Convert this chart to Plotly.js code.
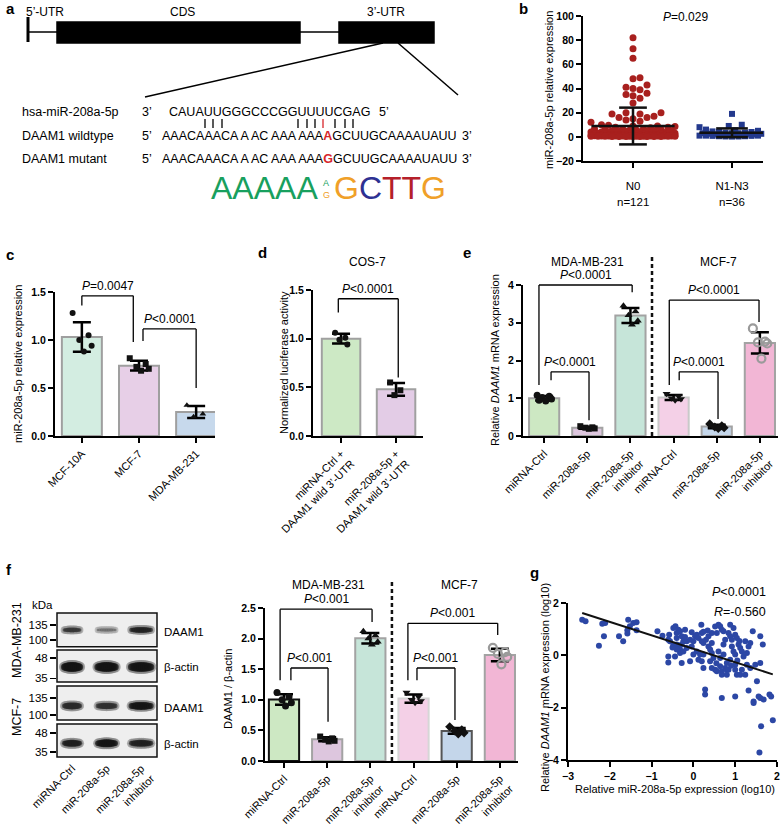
<!DOCTYPE html>
<html><head><meta charset="utf-8">
<script src="https://cdn.plot.ly/plotly-3.0.1.min.js"></script>
<style>body{margin:0;background:#fff}#chart{width:784px;height:825px}</style>
</head><body><div id="chart"></div>
<script>
const W=784,H=825;
const FONT='Liberation Sans, Arial, sans-serif';

// ---------------- DATA ----------------
// panel b
const bCategories=['N0','N1-N3'];
const bCounts=['n=121','n=36'];
const bN0=[82,73,65,49,48,43,41,40,39,36,35,34,32,28,
  20,20,19,19,17,16,16,15,14,13,12,
  10,9.5,9,9,8.5,8,8,7.5,7,7,6.5,6,6,5.5,5.5,5,5,5,4.5,4.5,4.5,4,4,4,4,3.5,3.5,3.5,3.5,3,3,3,3,3,
  2.5,2.5,2.5,2.5,2.5,2.5,2,2,2,2,2,2,2,2,1.5,1.5,1.5,1.5,1.5,1.5,1.5,1.5,
  1.2,1.2,1.2,1.2,1.2,1.2,1.2,1.2,1,1,1,1,1,1,1,1,0.7,0.7,0.7,0.7,0.7,0.7,0.7,0.7,
  0.4,0.4,0.4,0.4,0.4,0.4,0.4,0.4,0.2,0.2,0.2,0.2,0.2,0.2,0.2,0.2];
const bN1N3=[19,10,9,8,6,5.5,5,5,4.5,4,4,3.5,3.5,3,3,3,2.5,2.5,2,2,2,2,1.5,1.5,1.5,1,1,1,1,0.8,0.8,0.5,0.5,0.3,0.3,0.2];
const bPText='<i>P</i>=0.029';

// panel c
const cCategories=['MCF-10A','MCF-7','MDA-MB-231'];
const cPoints=[[1.28,1.05,1.00,0.94,0.88],[0.81,0.75,0.72,0.70,0.68],[0.32,0.23,0.20]];

// panel d
const dCategories=['miRNA-Ctrl +<br>DAAM1 wild 3’-UTR','miR-208a-5p +<br>DAAM1 wild 3’-UTR'];
const dPoints=[[1.06,1.01,0.99,0.94],[0.55,0.47,0.42]];

// panel e
const eCategories=['miRNA-Ctrl','miR-208a-5p','miR-208a-5p<br>inhibitor','miRNA-Ctrl','miR-208a-5p','miR-208a-5p<br>inhibitor'];
const ePoints=[[1.08,1.05,1.02,0.98,0.93,0.95],[0.26,0.23,0.22,0.20,0.19],[3.45,3.30,3.20,3.05,2.95],
  [1.12,1.05,1.00,0.98,0.95],[0.32,0.27,0.24,0.22,0.20],[2.85,2.50,2.48,2.45,2.05]];

// panel f (bars)
const fCategories=eCategories;
const fPoints=[[1.12,1.05,1.00,0.95,0.90],[0.40,0.37,0.35,0.33,0.32],[2.12,2.05,2.00,1.95,1.90],
  [1.12,1.05,1.00,0.98,0.95],[0.56,0.51,0.49,0.46,0.44],[1.85,1.78,1.75,1.70,1.58]];

// panel f (western blot)
const blotLanes=['miRNA-Ctrl','miR-208a-5p','miR-208a-5p<br>inhibitor'];
const blotRows=['DAAM1','β-actin','DAAM1','β-actin'];
const blotCells=['MDA-MB-231','MCF-7'];
const blotIntensity=[[0.85,0.6,0.95],[1,1,1],[0.9,0.88,1],[0.95,1,0.95]];
const blotThickness=[[5,3.5,6],[10,10,10],[7,6.5,8],[7,8,7]];
const blotMarkerLabels=['135','100','48','35','135','100','48','35'];
const blotMarkerPos=[0.33,0.75,1.25,1.81,2.36,2.83,3.33,3.86];
const blotBandY=[0.47,1.5,2.58,3.62];

// panel g
const gX=[-2.66,-2.58,-2.18,-2.11,-2.14,-2.26,-1.78,-1.68,-1.58,-1.56,-1.44,-1.36,-1.36,-1.58,-1.52,-0.86,-0.74,-0.60,-0.60,-0.60,-0.44,-0.58,-0.56,-0.48,-0.43,-0.40,-0.36,-0.40,-0.32,-0.28,-0.24,-0.40,-0.36,-0.32,-0.28,-0.20,-0.16,-0.16,-0.08,-0.04,-0.04,0.00,0.04,0.08,0.12,0.20,0.20,0.24,0.08,0.16,0.12,-0.08,-0.32,-0.24,-0.40,-0.48,0.00,-0.28,0.24,0.19,0.20,0.24,0.28,0.28,0.36,0.36,0.44,0.40,0.44,0.48,0.40,0.44,0.52,0.56,0.56,0.60,0.64,0.68,0.72,0.76,0.72,0.72,0.60,0.64,0.64,0.68,0.68,0.76,0.80,0.80,0.88,0.88,0.92,0.92,0.96,0.96,1.00,1.04,1.00,1.00,1.00,1.04,1.12,1.08,1.12,1.16,1.20,1.24,0.88,0.84,0.80,1.16,1.24,1.28,1.28,1.36,1.32,1.48,1.36,1.60,0.68,1.00,1.44,1.44,1.32,1.52,1.56,1.60,1.68,1.82,1.86,1.62,1.90,1.58,1.66,1.42,1.60,0.52,0.44,0.34,0.84,0.24,-0.50,-0.20,0.30,1.10,1.05,0.90,0.55];
const gY=[1.36,1.30,1.21,1.24,0.73,0.37,0.73,0.54,0.96,1.36,1.24,1.26,0.96,0.83,1.11,0.92,0.75,0.60,-0.04,-0.27,-0.04,0.79,0.54,1.04,1.11,0.85,0.98,0.66,0.92,0.73,0.54,0.41,0.34,0.22,0.41,0.98,0.54,0.28,0.60,0.34,0.88,0.54,0.73,0.79,0.66,0.85,0.54,0.47,0.15,0.03,-0.17,-0.23,0.09,0.15,0.22,0.41,0.03,-0.29,0.03,1.17,-0.23,-0.48,-1.31,-1.50,0.73,0.34,0.47,0.22,0.09,-0.10,-0.23,-0.48,-0.55,-0.61,0.85,1.17,1.11,0.98,0.92,0.60,0.41,0.03,0.15,-0.10,-0.42,-0.61,-0.74,-0.48,-0.29,-0.55,-0.17,0.73,0.60,0.34,0.15,1.04,0.79,0.66,0.03,-0.36,-0.55,-0.74,-0.74,0.41,0.28,0.15,-0.04,0.54,1.17,-0.55,-0.74,-0.55,-0.74,0.09,-0.36,0.47,0.34,-0.36,-0.48,-0.29,-1.63,-1.57,-1.76,-1.82,-1.34,-0.99,-1.57,-1.63,-1.69,-1.50,-1.57,-2.71,-2.48,-3.71,0.41,0.92,0.73,1.10,0.85,0.95,0.85,0.90,0.30,0.70,0.60,0.55,-0.20,-0.40,-0.30];
const gFit={slope:-0.515,intercept:0.25};
const gStats=['<i>P</i>&lt;0.0001','<i>R</i>=-0.560'];

// ---------------- HELPERS ----------------
const px=x=>x/W, py=y=>1-y/H;
const mean=a=>a.reduce((s,v)=>s+v,0)/a.length;
const sd=a=>{const m=mean(a);return Math.sqrt(a.reduce((s,v)=>s+(v-m)*(v-m),0)/(a.length-1));};
const SP={
 b:{n:'',xr:[-0.505,1.313],yr:[-20,100],xd:[583,763],yd:[16,161]},
 c:{n:'2',xr:[-0.47,2.33],yr:[0,1.5],xd:[55,215],yd:[292,436]},
 d:{n:'3',xr:[-0.51,1.49],yr:[0,1.5],xd:[313,423],yd:[290,436]},
 e:{n:'4',xr:[-0.49,5.42],yr:[0,4],xd:[523,778],yd:[285,436]},
 w:{n:'5',xr:[0.565,3.46],yr:[4,0],xd:[57,157],yd:[613,757]},
 f:{n:'6',xr:[-0.44,5.42],yr:[0,2.5],xd:[265,518],yd:[608,761]},
 g:{n:'7',xr:[-3,2],yr:[-4,2],xd:[568,777],yd:[603,760]}
};
function XP(sp,v){return sp.xd[0]+(v-sp.xr[0])/(sp.xr[1]-sp.xr[0])*(sp.xd[1]-sp.xd[0]);}
function YP(sp,v){return sp.yd[1]-(v-sp.yr[0])/(sp.yr[1]-sp.yr[0])*(sp.yd[1]-sp.yd[0]);}
const traces=[],shapes=[],annotations=[];
const layout={width:W,height:H,margin:{l:0,r:0,t:0,b:0},paper_bgcolor:'#fff',plot_bgcolor:'rgba(0,0,0,0)',
  showlegend:false,font:{family:FONT,color:'#000'},shapes,annotations};
function ann(text,x,y,o){const a={text,x:px(x),y:py(y),xref:'paper',yref:'paper',showarrow:false,
  font:{family:FONT,size:11,color:'#000'},xanchor:'center',yanchor:'middle'};
  if(o){for(const k in o){if(k==='font')Object.assign(a.font,o.font);else a[k]=o[k];}}
  annotations.push(a);}
function pline(x0,y0,x1,y1,o){shapes.push(Object.assign({type:'line',xref:'paper',yref:'paper',x0:px(x0),y0:py(y0),x1:px(x1),y1:py(y1),line:{color:'#000',width:1.3}},o||{}));}
function prect(x0,y0,x1,y1,o){shapes.push(Object.assign({type:'rect',xref:'paper',yref:'paper',x0:px(x0),y0:py(y0),x1:px(x1),y1:py(y1),line:{color:'#000',width:1.5},fillcolor:'#000',layer:'below'},o||{}));}
const numFont={family:FONT,size:10.5,color:'#000',weight:'bold'};
const catFont={family:FONT,size:11,color:'#000'};
const pFont={size:12};
function setAxes(sp,xo,yo){
  const base={showline:true,linewidth:2,linecolor:'#000',ticks:'outside',ticklen:5,tickwidth:2,tickcolor:'#000',
    showgrid:false,zeroline:false,fixedrange:true};
  layout['xaxis'+sp.n]=Object.assign({},base,{domain:[px(sp.xd[0]),px(sp.xd[1])],range:sp.xr,anchor:'y'+sp.n,tickfont:catFont},xo||{});
  layout['yaxis'+sp.n]=Object.assign({},base,{domain:[py(sp.yd[1]),py(sp.yd[0])],range:sp.yr,anchor:'x'+sp.n,tickfont:numFont},yo||{});
}
function bracket(sp,x1,x2,top,yl,yr,label){
  const X1=XP(sp,x1),X2=XP(sp,x2),T=YP(sp,top);
  pline(X1,YP(sp,yl),X1,T);pline(X1,T,X2,T);pline(X2,T,X2,YP(sp,yr));
  ann(label,(X1+X2)/2,T-1,{yanchor:'bottom',font:pFont});
}
const JIT=[-0.18,0.13,-0.05,0.19,0.04,-0.13];
function barPanel(sp,points,colors,lineColors,markers,jit){
  const xs=points.map((p,i)=>i);
  traces.push({type:'bar',x:xs,y:points.map(mean),xaxis:'x'+sp.n,yaxis:'y'+sp.n,width:0.7,
    marker:{color:colors,line:{color:lineColors,width:2}},
    error_y:{type:'data',array:points.map(sd),visible:true,color:'#000',thickness:2.5,width:9},hoverinfo:'skip'});
  points.forEach((p,i)=>{
    const m=markers[i];
    traces.push({type:'scatter',mode:'markers',x:p.map((v,j)=>i+JIT[j%JIT.length]*jit),y:p,xaxis:'x'+sp.n,yaxis:'y'+sp.n,
      cliponaxis:false,hoverinfo:'skip',
      marker:{symbol:m.s,size:m.z||6,color:m.c||'#111',line:{width:m.lw||0,color:m.lc||'#111'}}});
  });
}
function beeswarm(vals,center,pxX,pxY,diam,maxHalf){
  const idx=vals.map((v,i)=>i).sort((a,b)=>vals[a]-vals[b]);
  const placed=[],xs=new Array(vals.length);
  const step=diam*0.5,K=Math.floor(maxHalf/step);
  idx.forEach(i=>{
    const yp=vals[i]*pxY;let best=0,bestD=-1;
    for(let k=0;k<=2*K;k++){
      const off=(k%2?1:-1)*Math.ceil(k/2)*step;
      let minD=Infinity;
      for(const p of placed){if(Math.abs(p.y-yp)>diam)continue;const d=Math.hypot(p.x-off,p.y-yp);if(d<minD)minD=d;}
      if(minD>=diam){best=off;bestD=minD;break;}
      if(minD>bestD){bestD=minD;best=off;}
    }
    placed.push({x:best,y:yp});xs[i]=center+best/pxX;
  });
  return xs;
}

// ---------------- PANEL A (schematic) ----------------
ann('<b>a</b>',4,9,{xanchor:'left',font:{size:15}});
pline(28,17,28,42,{line:{color:'#000',width:3}});
pline(28,32,57,32,{line:{color:'#000',width:1.5}});
prect(57,22,300,43);
pline(300,32,339,32,{line:{color:'#000',width:1.5}});
prect(339,22,434,43);
pline(383,43,145,97,{line:{color:'#000',width:1.5}});
pline(398,43,458,95,{line:{color:'#000',width:1.5}});
ann('5’-UTR',45,12,{font:{size:12}});ann('CDS',182,12,{font:{size:12}});ann('3’-UTR',386,12,{font:{size:12}});
const seqFont={size:12.5};
ann('hsa-miR-208a-5p',20,112,{xanchor:'left',font:seqFont});
ann('3’',140,112,{xanchor:'left',font:seqFont});
ann('CAUAUUGGGCCCGGUUUUCGAG',167,112,{xanchor:'left',font:seqFont});
ann('5’',377,112,{xanchor:'left',font:seqFont});
[205,213,222,298,307,315,323,335,345,353].forEach(x=>pline(x,119,x,128,{line:{color:x===323?'#d7262b':'#000',width:1.3}}));
ann('DAAM1 wildtype',20,136,{xanchor:'left',font:seqFont});
ann('5’',140,136,{xanchor:'left',font:seqFont});
ann('AAACAAACA A AC AAA AAA<span style="color:#d7262b"><b>A</b></span>GCUUGCAAAAUAUU',160,136,{xanchor:'left',font:seqFont});
ann('3’',460,136,{xanchor:'left',font:seqFont});
ann('DAAM1 mutant',20,159,{xanchor:'left',font:seqFont});
ann('5’',140,159,{xanchor:'left',font:seqFont});
ann('AAACAAACA A AC AAA AAA<span style="color:#d7262b"><b>G</b></span>GCUUGCAAAAUAUU',160,159,{xanchor:'left',font:seqFont});
ann('3’',460,159,{xanchor:'left',font:seqFont});
ann('AAAAA',209,188,{xanchor:'left',font:{size:32,color:'#18a05e'}});
ann('A',326,183,{font:{size:9,color:'#18a05e'}});
ann('G',326,195,{font:{size:9,color:'#f0a028'}});
ann('<span style="color:#f0a028">G</span><span style="color:#2e3192">C</span><span style="color:#b5202a">TT</span><span style="color:#f0a028">G</span>',332,188,{xanchor:'left',font:{size:32}});

// ---------------- PANEL B ----------------
(function(){
  const sp=SP.b;
  setAxes(sp,{tickvals:[0,1],ticktext:bCategories,ticklabelstandoff:8,tickfont:{family:FONT,size:11.5,color:'#000'}},{dtick:20});
  const pxX=99,pxY=145/120;
  const x0=beeswarm(bN0,0,pxX,pxY,7,42);
  const x1=beeswarm(bN1N3,1,pxX,pxY,6.5,33);
  traces.push({type:'scatter',mode:'markers',x:x0,y:bN0,xaxis:'x',yaxis:'y',cliponaxis:false,hoverinfo:'skip',
    marker:{symbol:'circle',size:7,color:'#a8201e'}});
  traces.push({type:'scatter',mode:'markers',x:x1,y:bN1N3,xaxis:'x',yaxis:'y',cliponaxis:false,hoverinfo:'skip',
    marker:{symbol:'square',size:6,color:'#23398d'}});
  [[bN0,0,0.42,0.14],[bN1N3,1,0.33,0.16]].forEach(([v,c,mw,cw])=>{
    const m=mean(v),s=sd(v);
    traces.push({type:'scatter',mode:'lines',xaxis:'x',yaxis:'y',hoverinfo:'skip',line:{color:'#111',width:2.5},
      x:[c-mw,c+mw,null,c,c,null,c-cw,c+cw,null,c-cw,c+cw],
      y:[m,m,null,m-s,m+s,null,m+s,m+s,null,m-s,m-s]});
  });
  ann('<b>b</b>',523,9,{font:{size:15}});
  ann(bPText,685,17,{font:pFont});
  ann('miR-208a-5p relative expression',549,90,{textangle:-90});
  ann(bCounts[0],XP(sp,0),202,{font:{size:11.5}});ann(bCounts[1],XP(sp,1),202,{font:{size:11.5}});
})();

// ---------------- PANEL C ----------------
(function(){
  const sp=SP.c;
  setAxes(sp,{tickvals:[0,1,2],ticktext:cCategories,tickangle:-45},{tickvals:[0,0.5,1,1.5],tickformat:'.1f'});
  barPanel(sp,cPoints,['#d3ede1','#e7cfe7','#c7d9ec'],['#9f9f9f','#9f9f9f','#9f9f9f'],
    [{s:'circle'},{s:'square'},{s:'triangle-up'}],0.9);
  bracket(sp,0,0.9,1.46,1.36,0.98,'<i>P</i>=0.0047');
  bracket(sp,1.07,2,1.115,0.99,0.5,'<i>P</i>&lt;0.0001');
  ann('<b>c</b>',4,254,{xanchor:'left',font:{size:15}});
  ann('miR-208a-5p relative expression',18,364,{textangle:-90});
})();

// ---------------- PANEL D ----------------
(function(){
  const sp=SP.d;
  setAxes(sp,{tickvals:[0,1],ticktext:dCategories,tickangle:-45},{tickvals:[0,0.5,1,1.5],tickformat:'.1f'});
  barPanel(sp,dPoints,['#cde9c5','#e3cce6'],['#a0a0a0','#a0a0a0'],[{s:'circle'},{s:'square'}],0.6);
  bracket(sp,-0.05,1.04,1.41,1.27,0.6,'<i>P</i>&lt;0.0001');
  ann('<b>d</b>',262,253,{font:{size:15}});
  ann('COS-7',367,262,{font:pFont});
  ann('Normalized luciferase activity',284,363,{textangle:-90});
})();

// ---------------- PANEL E ----------------
const pointStyles=[{s:'circle',z:7},{s:'square',z:6},{s:'triangle-up',z:7},{s:'triangle-down',z:7},{s:'diamond',z:7},
  {s:'circle-open',z:8,c:'#9a9a9a',lc:'#9a9a9a',lw:2.2}];
(function(){
  const sp=SP.e;
  setAxes(sp,{tickvals:[0,1,2,3,4,5],ticktext:eCategories,tickangle:-45},{dtick:1});
  barPanel(sp,ePoints,['#cde8c3','#ddc6de','#c6e5d9','#f4d0e7','#c4d6ea','#f2b6d5'],
    ['#a3a3a3','#a3a3a3','#a3a3a3','#c9c9c9','#a3a3a3','#a3a3a3'],pointStyles,0.9);
  bracket(sp,-0.12,2.04,4.0,1.35,3.81,'<i>P</i>&lt;0.0001');
  bracket(sp,0.16,1.04,1.70,1.48,0.42,'<i>P</i>&lt;0.0001');
  bracket(sp,2.9,4.98,3.6,1.35,3.02,'<i>P</i>&lt;0.0001');
  bracket(sp,3.13,4.03,1.70,1.48,0.45,'<i>P</i>&lt;0.0001');
  pline(XP(sp,2.5),YP(sp,0),XP(sp,2.5),255,{line:{color:'#111',width:2.5,dash:'4px,3px'}});
  ann('<b>e</b>',467,253,{font:{size:15}});
  ann('MDA-MB-231',XP(sp,1),262,{font:pFont});ann('MCF-7',XP(sp,4.05),262,{font:pFont});
  ann('Relative <i>DAAM1</i> mRNA expression',495,360,{textangle:-90});
})();

// ---------------- PANEL F (blot) ----------------
(function(){
  const sp=SP.w;
  setAxes(sp,{showline:false,ticks:'',tickvals:[1,2,3],ticktext:blotLanes,tickangle:-45,ticklabelstandoff:2},
    {showline:false,ticklen:6,tickwidth:1.3,tickvals:blotMarkerPos,ticktext:blotMarkerLabels,tickfont:{family:FONT,size:11.5,color:'#000'}});
  const boxes=[[0,0.94],[1.03,1.92],[2.03,2.97],[3.08,4.0]];
  boxes.forEach(b=>prect(XP(sp,sp.xr[0]),YP(sp,b[0]),XP(sp,sp.xr[1]),YP(sp,b[1]),{fillcolor:'#eeeeee',line:{color:'#111',width:1.5}}));
  const halo={x:[],y:[],s:[],c:[]},core={x:[],y:[],s:[],c:[]};
  blotIntensity.forEach((row,r)=>row.forEach((a,l)=>{
    const th=blotThickness[r][l],n=11,half=0.22+0.03*l;
    for(let k=0;k<n;k++){const t=-1+2*k/(n-1);
      const g=Math.round(225-a*205),gh=Math.round(225-a*90);
      core.x.push(l+1+t*half);core.y.push(blotBandY[r]);core.s.push(th*(1-0.3*t*t));core.c.push(`rgb(${g},${g},${g})`);
      halo.x.push(l+1+t*half);halo.y.push(blotBandY[r]);halo.s.push(th*(1-0.3*t*t)+4);halo.c.push(`rgb(${gh},${gh},${gh})`);}
  }));
  [halo,core].forEach(L=>traces.push({type:'scatter',mode:'markers',x:L.x,y:L.y,xaxis:'x5',yaxis:'y5',hoverinfo:'skip',
    cliponaxis:false,marker:{size:L.s,color:L.c,line:{width:0}}}));
  ann('<b>f</b>',4,569,{xanchor:'left',font:{size:15}});
  ann('kDa',42,605,{font:{size:11.5}});
  const rowY=[632,667,708,744];
  blotRows.forEach((t,i)=>ann(t,162,rowY[i],{xanchor:'left',font:{size:11.5}}));
  ann(blotCells[0],17,640,{textangle:-90,font:{size:12.5}});
  ann(blotCells[1],17,717,{textangle:-90,font:{size:12.5}});
})();

// ---------------- PANEL F (bars) ----------------
(function(){
  const sp=SP.f;
  setAxes(sp,{tickvals:[0,1,2,3,4,5],ticktext:fCategories,tickangle:-45},{tickvals:[0,0.5,1,1.5,2,2.5],tickformat:'.1f'});
  barPanel(sp,fPoints,['#cde8c3','#ddc6de','#c6e5d9','#f4d0e7','#c4d6ea','#f2b6d5'],
    ['#111','#a3a3a3','#a3a3a3','#d6d6d6','#555','#a3a3a3'],pointStyles,0.9);
  bracket(sp,-0.09,2.04,2.48,1.32,2.27,'<i>P</i>&lt;0.001');
  bracket(sp,0.16,1.02,1.52,1.32,0.64,'<i>P</i>&lt;0.001');
  bracket(sp,2.87,4.95,2.25,1.32,2.06,'<i>P</i>&lt;0.001');
  bracket(sp,3.08,3.96,1.52,1.32,0.67,'<i>P</i>&lt;0.001');
  pline(XP(sp,2.5),YP(sp,0),XP(sp,2.5),582,{line:{color:'#111',width:2.5,dash:'4px,3px'}});
  ann('MDA-MB-231',XP(sp,1.02),585,{font:pFont});ann('MCF-7',XP(sp,4.07),585,{font:pFont});
  ann('DAAM1 / β-actin',228,689,{textangle:-90});
})();

// ---------------- PANEL G ----------------
(function(){
  const sp=SP.g;
  setAxes(sp,{dtick:1,tickfont:numFont},{dtick:2});
  traces.push({type:'scatter',mode:'markers',x:gX,y:gY,xaxis:'x7',yaxis:'y7',hoverinfo:'skip',cliponaxis:false,
    marker:{size:6,color:'#2c47a5'}});
  const xmin=Math.min(...gX),xmax=Math.max(...gX);
  traces.push({type:'scatter',mode:'lines',x:[xmin,xmax],y:[gFit.intercept+gFit.slope*xmin,gFit.intercept+gFit.slope*xmax],
    xaxis:'x7',yaxis:'y7',hoverinfo:'skip',line:{color:'#111',width:2}});
  ann('<b>g</b>',534,572,{font:{size:15}});
  ann(gStats[0],768,592,{xanchor:'right',font:{size:12.5}});
  ann(gStats[1],768,612,{xanchor:'right',font:{size:12.5}});
  ann('Relative <i>DAAM1</i> mRNA expression (log10)',545,688,{textangle:-90});
  ann('Relative miR-208a-5p expression (log10)',675,789);
})();

Plotly.newPlot('chart',traces,layout,{staticPlot:true,displayModeBar:false});
</script></body></html>
